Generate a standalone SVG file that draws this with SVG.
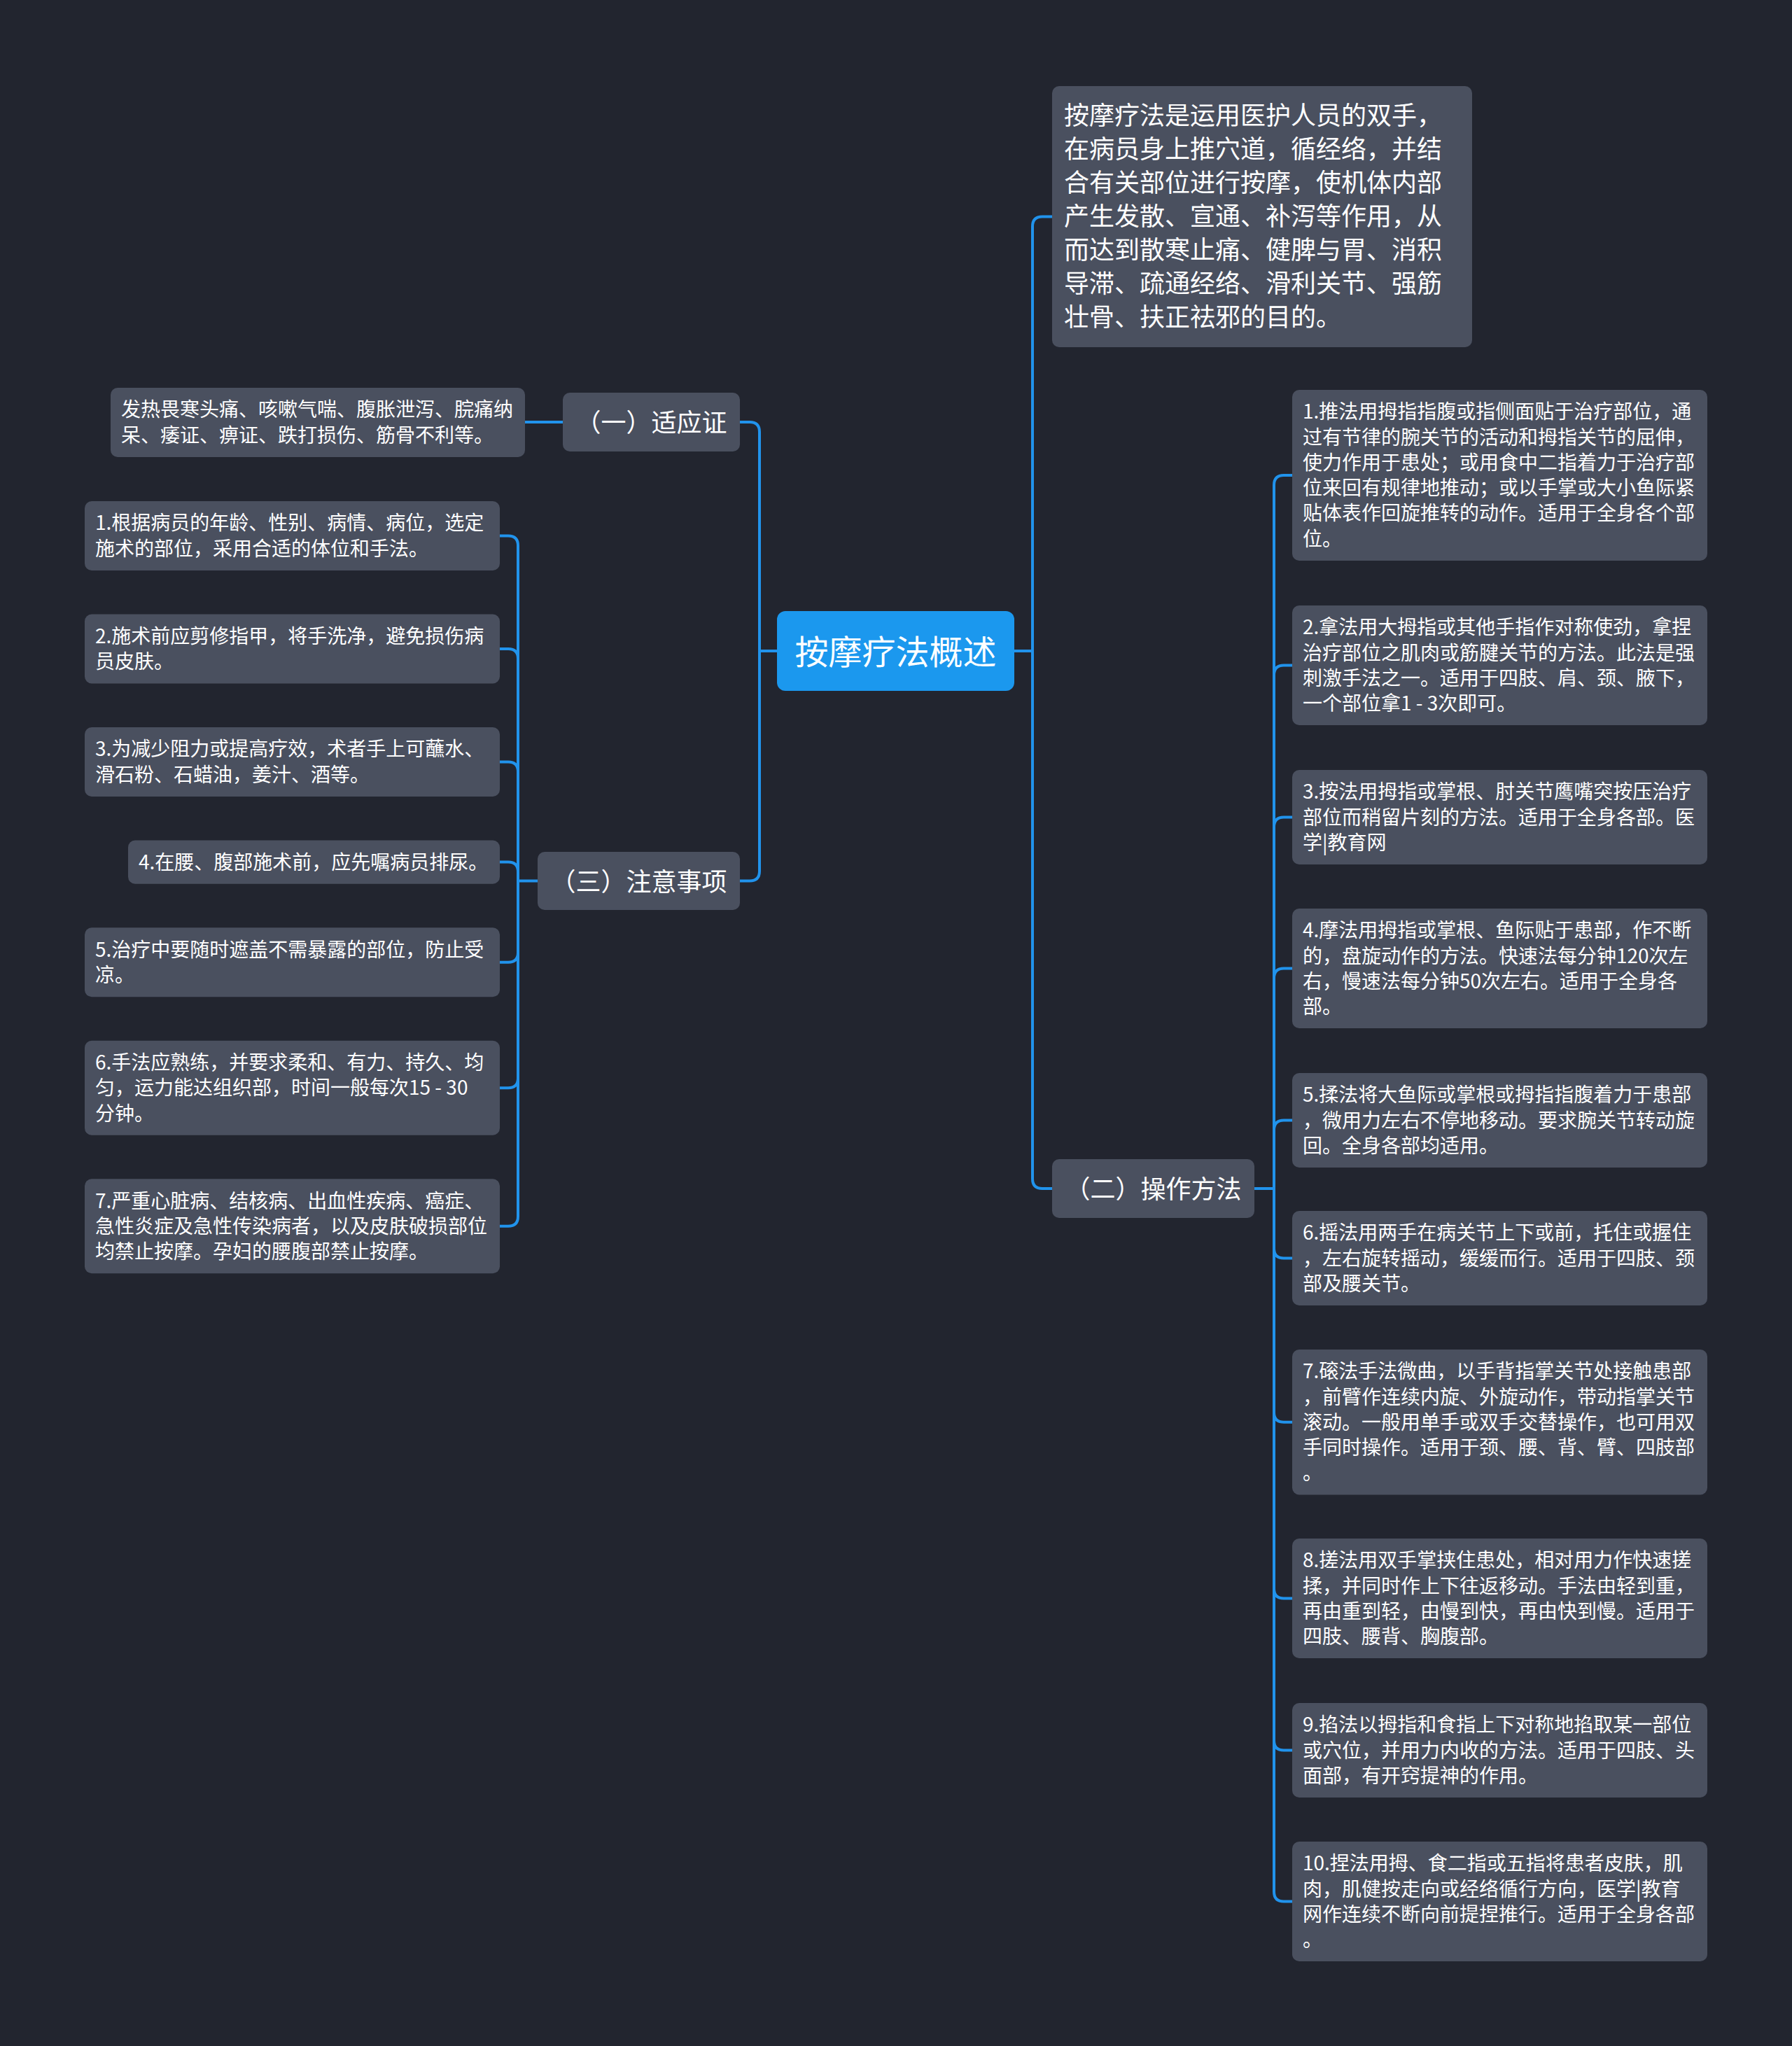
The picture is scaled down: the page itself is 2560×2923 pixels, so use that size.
<svg xmlns="http://www.w3.org/2000/svg" width="2560" height="2923" viewBox="0 0 2560 2923">
<style>
.bg{fill:#22252f}
.box{fill:#4a505f}
.root{fill:#1b98ee}
text{font-family:"Noto Sans CJK SC","Noto Sans",sans-serif;fill:#ffffff;dominant-baseline:central;transform:translateY(-2px)}
#desc text{transform:translateY(-4px)}
.t28{font-size:28px}
.t36{font-size:36px}
.t48{font-size:48px}
.mid{text-anchor:middle}
.link{fill:none;stroke:#2193ec;stroke-width:4;stroke-linecap:round;stroke-linejoin:round}
</style>
<rect class="bg" x="0" y="0" width="2560" height="2923"/>

<g id="connectors">
<path class="link" d="M1110,930 H1085"/>
<path class="link" d="M1085,930 V617 Q1085,603 1071,603 H1057"/>
<path class="link" d="M1085,930 V1244.5 Q1085,1258.5 1071,1258.5 H1057"/>
<path class="link" d="M1449,930 H1475"/>
<path class="link" d="M1475,930 V323.5 Q1475,309.5 1489,309.5 H1503"/>
<path class="link" d="M1475,930 V1684 Q1475,1698 1489,1698 H1503"/>
<path class="link" d="M804,603 H750"/>
<path class="link" d="M768,1258.5 H740"/>
<path class="link" d="M740,1258.5 V779.5 Q740,765.5 726,765.5 H714"/>
<path class="link" d="M740,1258.5 V941 Q740,927 726,927 H714"/>
<path class="link" d="M740,1258.5 V1102.5 Q740,1088.5 726,1088.5 H714"/>
<path class="link" d="M740,1258.5 V1245.6 Q740,1231.6 726,1231.6 H714"/>
<path class="link" d="M740,1258.5 V1360.8 Q740,1374.8 726,1374.8 H714"/>
<path class="link" d="M740,1258.5 V1540.3 Q740,1554.3 726,1554.3 H714"/>
<path class="link" d="M740,1258.5 V1737.8 Q740,1751.8 726,1751.8 H714"/>
<path class="link" d="M1792,1698 H1820"/>
<path class="link" d="M1820,1698 V693 Q1820,679 1834,679 H1846"/>
<path class="link" d="M1820,1698 V964.5 Q1820,950.5 1834,950.5 H1846"/>
<path class="link" d="M1820,1698 V1181.5 Q1820,1167.5 1834,1167.5 H1846"/>
<path class="link" d="M1820,1698 V1397.5 Q1820,1383.5 1834,1383.5 H1846"/>
<path class="link" d="M1820,1698 V1614.5 Q1820,1600.5 1834,1600.5 H1846"/>
<path class="link" d="M1820,1698 V1783.5 Q1820,1797.5 1834,1797.5 H1846"/>
<path class="link" d="M1820,1698 V2017.8 Q1820,2031.8 1834,2031.8 H1846"/>
<path class="link" d="M1820,1698 V2269.5 Q1820,2283.5 1834,2283.5 H1846"/>
<path class="link" d="M1820,1698 V2486.5 Q1820,2500.5 1834,2500.5 H1846"/>
<path class="link" d="M1820,1698 V2702.5 Q1820,2716.5 1834,2716.5 H1846"/>
</g>

<g id="root">
<rect class="root" x="1110" y="873" width="339" height="114" rx="12"/>
<text class="t48 mid" x="1279.5" y="930">按摩疗法概述</text>
</g>

<g id="desc">
<rect class="box" x="1503" y="123" width="600" height="373" rx="10"/>
<text class="t36" x="1520" y="165.5">按摩疗法是运用医护人员的双手，</text>
<text class="t36" x="1520" y="213.5">在病员身上推穴道，循经络，并结</text>
<text class="t36" x="1520" y="261.5">合有关部位进行按摩，使机体内部</text>
<text class="t36" x="1520" y="309.5">产生发散、宣通、补泻等作用，从</text>
<text class="t36" x="1520" y="357.5">而达到散寒止痛、健脾与胃、消积</text>
<text class="t36" x="1520" y="405.5">导滞、疏通经络、滑利关节、强筋</text>
<text class="t36" x="1520" y="453.5">壮骨、扶正祛邪的目的。</text>
</g>

<g id="b1">
<rect class="box" x="804" y="561" width="253" height="84" rx="10"/>
<text class="t36 mid" x="930.5" y="603">（一）适应证</text>
</g>
<g id="b1-leaf">
<rect class="box" x="158" y="554" width="592" height="99" rx="10"/>
<text class="t28" x="173" y="585">发热畏寒头痛、咳嗽气喘、腹胀泄泻、脘痛纳</text>
<text class="t28" x="173" y="621.5">呆、痿证、痹证、跌打损伤、筋骨不利等。</text>
</g>

<g id="b3">
<rect class="box" x="768" y="1217" width="289" height="83" rx="10"/>
<text class="t36 mid" x="912.5" y="1258.5">（三）注意事项</text>
</g>
<g id="b3-1">
<rect class="box" x="121" y="716" width="593" height="99" rx="10"/>
<text class="t28" x="136" y="747.4">1.根据病员的年龄、性别、病情、病位，选定</text>
<text class="t28" x="136" y="783.7">施术的部位，采用合适的体位和手法。</text>
</g>
<g id="b3-2">
<rect class="box" x="121" y="877.5" width="593" height="99" rx="10"/>
<text class="t28" x="136" y="908.9">2.施术前应剪修指甲，将手洗净，避免损伤病</text>
<text class="t28" x="136" y="945.2">员皮肤。</text>
</g>
<g id="b3-3">
<rect class="box" x="121" y="1039" width="593" height="99" rx="10"/>
<text class="t28" x="136" y="1070.4">3.为减少阻力或提高疗效，术者手上可蘸水、</text>
<text class="t28" x="136" y="1106.7">滑石粉、石蜡油，姜汁、酒等。</text>
</g>
<g id="b3-4">
<rect class="box" x="183" y="1200.5" width="531" height="62.3" rx="10"/>
<text class="t28" x="198" y="1231.6">4.在腰、腹部施术前，应先嘱病员排尿。</text>
</g>
<g id="b3-5">
<rect class="box" x="121" y="1325.3" width="593" height="99" rx="10"/>
<text class="t28" x="136" y="1356.7">5.治疗中要随时遮盖不需暴露的部位，防止受</text>
<text class="t28" x="136" y="1393">凉。</text>
</g>
<g id="b3-6">
<rect class="box" x="121" y="1486.8" width="593" height="135" rx="10"/>
<text class="t28" x="136" y="1518">6.手法应熟练，并要求柔和、有力、持久、均</text>
<text class="t28" x="136" y="1554.3">匀，运力能达组织部，时间一般每次15 - 30</text>
<text class="t28" x="136" y="1590.6">分钟。</text>
</g>
<g id="b3-7">
<rect class="box" x="121" y="1684.3" width="593" height="135" rx="10"/>
<text class="t28" x="136" y="1715.5">7.严重心脏病、结核病、出血性疾病、癌症、</text>
<text class="t28" x="136" y="1751.8">急性炎症及急性传染病者，以及皮肤破损部位</text>
<text class="t28" x="136" y="1788.1">均禁止按摩。孕妇的腰腹部禁止按摩。</text>
</g>

<g id="b2">
<rect class="box" x="1503" y="1656" width="289" height="84" rx="10"/>
<text class="t36 mid" x="1647.5" y="1698">（二）操作方法</text>
</g>
<g id="b2-1">
<rect class="box" x="1846" y="557" width="593" height="244" rx="10"/>
<text class="t28" x="1861" y="588.2">1.推法用拇指指腹或指侧面贴于治疗部位，通</text>
<text class="t28" x="1861" y="624.5">过有节律的腕关节的活动和拇指关节的屈伸，</text>
<text class="t28" x="1861" y="660.8">使力作用于患处；或用食中二指着力于治疗部</text>
<text class="t28" x="1861" y="697.1">位来回有规律地推动；或以手掌或大小鱼际紧</text>
<text class="t28" x="1861" y="733.4">贴体表作回旋推转的动作。适用于全身各个部</text>
<text class="t28" x="1861" y="769.7">位。</text>
</g>
<g id="b2-2">
<rect class="box" x="1846" y="865" width="593" height="171" rx="10"/>
<text class="t28" x="1861" y="896.2">2.拿法用大拇指或其他手指作对称使劲，拿捏</text>
<text class="t28" x="1861" y="932.5">治疗部位之肌肉或筋腱关节的方法。此法是强</text>
<text class="t28" x="1861" y="968.8">刺激手法之一。适用于四肢、肩、颈、腋下，</text>
<text class="t28" x="1861" y="1005.1">一个部位拿1 - 3次即可。</text>
</g>
<g id="b2-3">
<rect class="box" x="1846" y="1100" width="593" height="135" rx="10"/>
<text class="t28" x="1861" y="1131.2">3.按法用拇指或掌根、肘关节鹰嘴突按压治疗</text>
<text class="t28" x="1861" y="1167.5">部位而稍留片刻的方法。适用于全身各部。医</text>
<text class="t28" x="1861" y="1203.8">学|教育网</text>
</g>
<g id="b2-4">
<rect class="box" x="1846" y="1298" width="593" height="171" rx="10"/>
<text class="t28" x="1861" y="1329.2">4.摩法用拇指或掌根、鱼际贴于患部，作不断</text>
<text class="t28" x="1861" y="1365.5">的，盘旋动作的方法。快速法每分钟120次左</text>
<text class="t28" x="1861" y="1401.8">右，慢速法每分钟50次左右。适用于全身各</text>
<text class="t28" x="1861" y="1438.1">部。</text>
</g>
<g id="b2-5">
<rect class="box" x="1846" y="1533" width="593" height="135" rx="10"/>
<text class="t28" x="1861" y="1564.2">5.揉法将大鱼际或掌根或拇指指腹着力于患部</text>
<text class="t28" x="1861" y="1600.5">，微用力左右不停地移动。要求腕关节转动旋</text>
<text class="t28" x="1861" y="1636.8">回。全身各部均适用。</text>
</g>
<g id="b2-6">
<rect class="box" x="1846" y="1730" width="593" height="135" rx="10"/>
<text class="t28" x="1861" y="1761.2">6.摇法用两手在病关节上下或前，托住或握住</text>
<text class="t28" x="1861" y="1797.5">，左右旋转摇动，缓缓而行。适用于四肢、颈</text>
<text class="t28" x="1861" y="1833.8">部及腰关节。</text>
</g>
<g id="b2-7">
<rect class="box" x="1846" y="1928" width="593" height="207.5" rx="10"/>
<text class="t28" x="1861" y="1959.2">7.磙法手法微曲，以手背指掌关节处接触患部</text>
<text class="t28" x="1861" y="1995.5">，前臂作连续内旋、外旋动作，带动指掌关节</text>
<text class="t28" x="1861" y="2031.8">滚动。一般用单手或双手交替操作，也可用双</text>
<text class="t28" x="1861" y="2068.1">手同时操作。适用于颈、腰、背、臂、四肢部</text>
<text class="t28" x="1861" y="2104.4">。</text>
</g>
<g id="b2-8">
<rect class="box" x="1846" y="2198" width="593" height="171" rx="10"/>
<text class="t28" x="1861" y="2229.2">8.搓法用双手掌挟住患处，相对用力作快速搓</text>
<text class="t28" x="1861" y="2265.5">揉，并同时作上下往返移动。手法由轻到重，</text>
<text class="t28" x="1861" y="2301.8">再由重到轻，由慢到快，再由快到慢。适用于</text>
<text class="t28" x="1861" y="2338.1">四肢、腰背、胸腹部。</text>
</g>
<g id="b2-9">
<rect class="box" x="1846" y="2433" width="593" height="135" rx="10"/>
<text class="t28" x="1861" y="2464.2">9.掐法以拇指和食指上下对称地掐取某一部位</text>
<text class="t28" x="1861" y="2500.5">或穴位，并用力内收的方法。适用于四肢、头</text>
<text class="t28" x="1861" y="2536.8">面部，有开窍提神的作用。</text>
</g>
<g id="b2-10">
<rect class="box" x="1846" y="2631" width="593" height="171" rx="10"/>
<text class="t28" x="1861" y="2662.2">10.捏法用拇、食二指或五指将患者皮肤，肌</text>
<text class="t28" x="1861" y="2698.5">肉，肌健按走向或经络循行方向，医学|教育</text>
<text class="t28" x="1861" y="2734.8">网作连续不断向前提捏推行。适用于全身各部</text>
<text class="t28" x="1861" y="2771.1">。</text>
</g>
</svg>
